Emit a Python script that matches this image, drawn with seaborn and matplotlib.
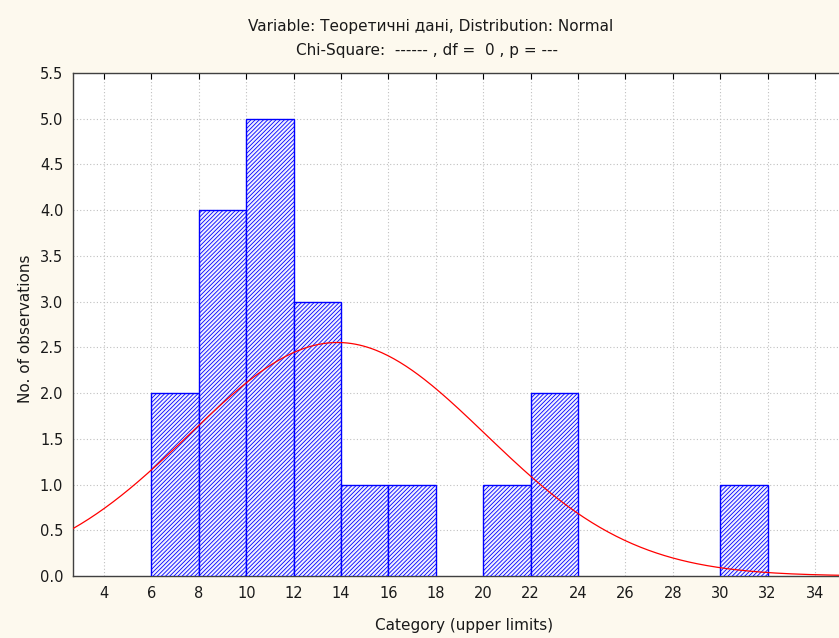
import numpy as np
import pandas as pd
import matplotlib
matplotlib.use("Agg")
import matplotlib.pyplot as plt
import seaborn as sns

# ---- data ----
bin_edges = [6, 8, 10, 12, 14, 16, 18, 20, 22, 24, 26, 28, 30, 32]
bin_counts = [2, 4, 5, 3, 1, 1, 0, 1, 2, 0, 0, 0, 1]
x_ticks = [4, 6, 8, 10, 12, 14, 16, 18, 20, 22, 24, 26, 28, 30, 32, 34]
y_ticks = [0.0, 0.5, 1.0, 1.5, 2.0, 2.5, 3.0, 3.5, 4.0, 4.5, 5.0, 5.5]
# fitted normal distribution (parameters)
norm_mean = 13.85
norm_sd = 6.25
n_obs = 20
bin_width = 2

title1 = "Variable: Теоретичні дані, Distribution: Normal"
title2 = "Chi-Square:  ------ , df =  0 , p = ---"
xlabel = "Category (upper limits)"
ylabel = "No. of observations"

sns.set_style("white")
plt.rcParams['font.family'] = ['DejaVu Sans']
txt = '#1a1a1a'
plt.rcParams['text.color'] = txt
plt.rcParams['axes.labelcolor'] = txt
plt.rcParams['xtick.color'] = txt
plt.rcParams['ytick.color'] = txt
plt.rcParams['hatch.linewidth'] = 0.6
plt.rcParams['hatch.color'] = '#0000ff'

bg = '#fdf9ee'
fig = plt.figure(figsize=(8.39, 6.38), dpi=100, facecolor=bg)
ax = fig.add_axes([73/839, 1-576/638, 1-73/839, (576-73)/638])
ax.set_facecolor('white')

centers = [(bin_edges[i] + bin_edges[i+1]) / 2 for i in range(len(bin_counts))]
df = pd.DataFrame({'x': centers, 'w': bin_counts})
sns.histplot(data=df, x='x', weights='w', bins=bin_edges, stat='count',
             ax=ax, color='white', edgecolor='#0000ff', linewidth=1.0, alpha=1.0)
for p in ax.patches:
    if p.get_height() > 0:
        p.set_hatch('////////')
        p.set_facecolor('#f0f0ff')
    else:
        p.set_visible(False)
    p.set_zorder(3)

xs = np.linspace(2.0, 36.0, 400)
ys = n_obs * bin_width * np.exp(-0.5 * ((xs - norm_mean) / norm_sd) ** 2) / (norm_sd * np.sqrt(2 * np.pi))
sns.lineplot(x=xs, y=ys, ax=ax, color='#ff0000', linewidth=0.9, zorder=4)

ax.set_xlim(2.69, 35.01)
ax.set_ylim(0, 5.5)
ax.set_xticks(x_ticks)
ax.set_xticklabels([str(t) for t in x_ticks])
ax.set_yticks(y_ticks)
ax.set_yticklabels([f"{t:.1f}" for t in y_ticks])
ax.grid(True, color='#c0c0c0', linestyle=(0, (1, 2)), linewidth=0.8, zorder=0)
ax.set_axisbelow(True)
ax.tick_params(axis='both', direction='in', length=4, labelsize=10.5, pad=7,
               top=True, right=False, color='black')
for s in ['left', 'bottom', 'top']:
    ax.spines[s].set_visible(True)
    ax.spines[s].set_color('#404040')
    ax.spines[s].set_linewidth(1.0)
ax.spines['right'].set_visible(False)

ax.set_xlabel(xlabel, fontsize=11)
ax.xaxis.set_label_coords((464 - 73) / 766, -42 / 503)
ax.set_ylabel(ylabel, fontsize=11)
ax.yaxis.set_label_coords(-40 / 766, (576 - 329) / 503)
fig.text(431 / 839, 1 - 26 / 638, title1, ha='center', va='center', fontsize=11)
fig.text(427 / 839, 1 - 51 / 638, title2, ha='center', va='center', fontsize=11)

fig.savefig('out.png', dpi=100, facecolor=bg)
